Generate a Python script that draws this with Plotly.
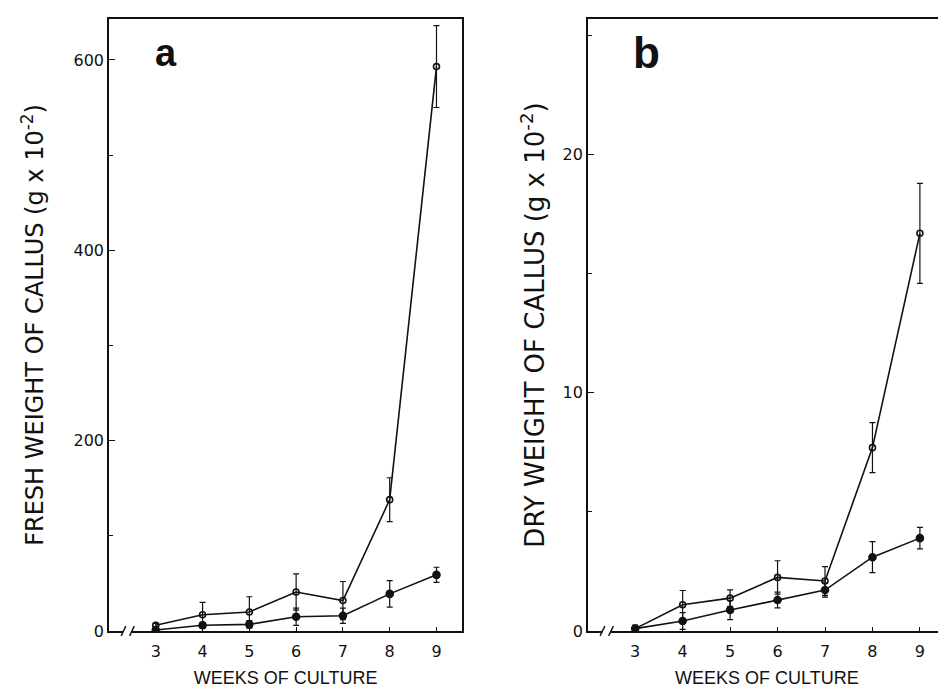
import plotly.graph_objects as go
from plotly.subplots import make_subplots

weeks = [3, 4, 5, 6, 7, 8, 9]

fresh_open = [6, 17, 20, 41, 32, 138, 593]
fresh_open_err = [2, 13, 16, 19, 20, 23, 43]
fresh_filled = [1, 6, 7, 15, 16, 39, 59]
fresh_filled_err = [1, 3, 4, 9, 8, 14, 8]

dry_open = [0.1, 1.1, 1.38, 2.25, 2.1, 7.7, 16.7]
dry_open_err = [0.15, 0.6, 0.35, 0.7, 0.6, 1.05, 2.1]
dry_filled = [0.1, 0.42, 0.88, 1.3, 1.72, 3.1, 3.9]
dry_filled_err = [0.1, 0.35, 0.4, 0.33, 0.3, 0.65, 0.45]

x_ticks = [3, 4, 5, 6, 7, 8, 9]
fresh_ticks = [0, 200, 400, 600]
dry_ticks = [0, 10, 20]

FONT = "Liberation Sans"
TICKFONT = "DejaVu Sans"
BLACK = "#111111"

fig = make_subplots(rows=1, cols=2, horizontal_spacing=0.15)


def add_series(y, err, col, filled):
    fig.add_trace(go.Scatter(
        x=weeks, y=y, mode="lines+markers",
        line=dict(color=BLACK, width=1.6),
        marker=dict(symbol="circle" if filled else "circle-open",
                    size=7 if filled else 6, color=BLACK,
                    line=dict(color=BLACK, width=1.6)),
        error_y=dict(type="data", array=err, visible=True,
                     color=BLACK, thickness=1.2, width=3),
        showlegend=False), row=1, col=col)


add_series(fresh_open, fresh_open_err, 1, False)
add_series(fresh_filled, fresh_filled_err, 1, True)
add_series(dry_open, dry_open_err, 2, False)
add_series(dry_filled, dry_filled_err, 2, True)

axis_common = dict(showline=True, linecolor=BLACK, linewidth=1.5, mirror=True,
                   showgrid=False, zeroline=False, ticks="inside",
                   tickcolor=BLACK, tickfont=dict(family=TICKFONT, size=16, color=BLACK))

for c in (1, 2):
    fig.update_xaxes(range=[2.0, 9.55], tickvals=x_ticks, ticklen=4,
                     ticklabelstandoff=5,
                     title=dict(text="WEEKS OF CULTURE",
                                font=dict(family=FONT, size=18, color=BLACK),
                                standoff=11),
                     **axis_common, row=1, col=c)

fig.update_yaxes(range=[0, 643], tickvals=fresh_ticks, ticklen=6,
                 minor=dict(ticks="inside", dtick=100, ticklen=4, tickcolor=BLACK),
                 title=dict(text="FRESH WEIGHT OF CALLUS (g x 10<sup>-2</sup>)",
                            font=dict(family=TICKFONT, size=24, color=BLACK), standoff=23),
                 **axis_common, row=1, col=1)
fig.update_yaxes(range=[0, 25.7], tickvals=dry_ticks, ticklen=6,
                 minor=dict(ticks="inside", dtick=5, ticklen=4, tickcolor=BLACK),
                 title=dict(text="DRY WEIGHT OF CALLUS (g x 10<sup>-2</sup>)",
                            font=dict(family=TICKFONT, size=26, color=BLACK), standoff=10),
                 **axis_common, row=1, col=2)

fig.update_xaxes(domain=[0, 0.422], row=1, col=1)
fig.update_xaxes(domain=[0.572, 1.0], row=1, col=2)

# axis break marks
for xr, yr in (("x", "y domain"), ("x2", "y2 domain")):
    fig.add_shape(type="line", xref=xr, yref=yr, x0=2.3, x1=2.48, y0=0, y1=0,
                  line=dict(color="white", width=4), layer="above")
    for xs in (2.26, 2.44):
        fig.add_shape(type="line", xref=xr, yref=yr, x0=xs, x1=xs + 0.1,
                      y0=-0.008, y1=0.008, line=dict(color=BLACK, width=1.4),
                      layer="above")

fig.add_annotation(text="<b>a</b>", xref="x domain", yref="y domain", x=0.16, y=0.945,
                   xanchor="center", yanchor="middle",
                   showarrow=False, font=dict(family=FONT, size=38, color=BLACK))
fig.add_annotation(text="<b>b</b>", xref="x2 domain", yref="y2 domain", x=0.165, y=0.945,
                   xanchor="center", yanchor="middle",
                   showarrow=False, font=dict(family=FONT, size=44, color=BLACK))

fig.update_layout(width=946, height=691, plot_bgcolor="white", paper_bgcolor="white",
                  margin=dict(l=101, r=6, t=11, b=68))

fig.write_html("out.html")
